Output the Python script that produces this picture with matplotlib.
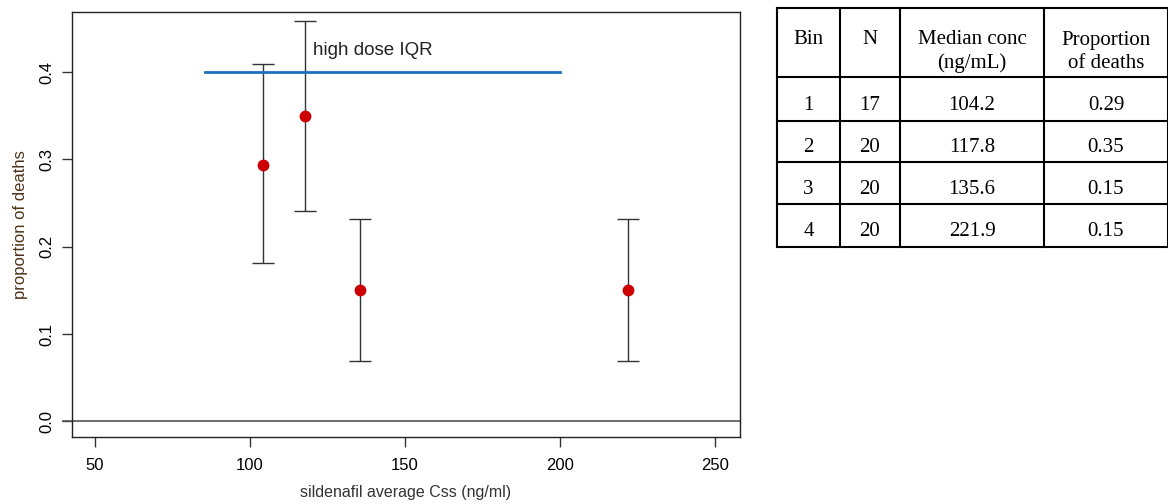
import numpy as np
import matplotlib.pyplot as plt

# binned data
bins = [1, 2, 3, 4]
n_pat = [17, 20, 20, 20]
median_conc = [104.2, 117.8, 135.6, 221.9]
prop_deaths = [0.294, 0.35, 0.15, 0.15]
ci_low = [0.181, 0.241, 0.069, 0.069]
ci_high = [0.409, 0.459, 0.232, 0.232]
prop_table = ['0.29', '0.35', '0.15', '0.15']
iqr_range = [85.5, 200]
iqr_level = 0.4

plt.rcParams['font.family'] = ['Liberation Sans', 'DejaVu Sans']

fig = plt.figure(figsize=(11.68, 5.04), dpi=100)
ax = fig.add_axes([72/1168, 1 - 437/504, 668/1168, 425/504])

x = np.array(median_conc)
y = np.array(prop_deaths)
yerr = [y - np.array(ci_low), np.array(ci_high) - y]
ax.errorbar(x, y, yerr=yerr, fmt='none', ecolor='#333333', elinewidth=1,
            capsize=8, capthick=1)
ax.plot(x, y, 'o', color='#cc0000', markersize=7.5, zorder=3)

ax.plot(iqr_range, [iqr_level, iqr_level], color='#1f6fc1', lw=2)
ax.text(120.3, 0.425, 'high dose IQR', fontsize=13.5, color='#222222',
        ha='left', va='center')

ax.axhline(0, color='#555555', lw=1.2, xmin=-0.013, xmax=1, clip_on=False)

ax.set_xlim(42.6, 258)
ax.set_ylim(-0.018, 0.469)
ax.set_xticks([50, 100, 150, 200, 250])
ax.set_yticks([0.0, 0.1, 0.2, 0.3, 0.4])
ax.set_yticklabels(['0.0', '0.1', '0.2', '0.3', '0.4'], rotation=90, va='center')
ax.tick_params(axis='both', labelsize=12, length=7, width=1, color='#333333', pad=6)
ax.tick_params(axis='x', pad=8)
for s in ax.spines.values():
    s.set_linewidth(1)
    s.set_color('#222222')

ax.set_xlabel('sildenafil average Css (ng/ml)', fontsize=11.5, color='#333333', labelpad=9)
ax.set_ylabel('proportion of deaths', fontsize=12, color='#4d3319', labelpad=8)

# table drawn on a figure-sized overlay, in pixel coordinates
tx = fig.add_axes([0, 0, 1, 1])
tx.set_xlim(0, 1168)
tx.set_ylim(504, 0)
tx.axis('off')

col_x = [777, 840, 900, 1044, 1168]
row_y = [8, 77, 121, 162, 204, 247]
for cx in col_x:
    tx.plot([cx, cx], [row_y[0], row_y[-1]], color='black', lw=1.5)
for ry in row_y:
    tx.plot([col_x[0], col_x[-1]], [ry, ry], color='black', lw=1.5)

serif = ['Liberation Serif', 'DejaVu Serif']
headers = [['Bin'], ['N'], ['Median conc', '(ng/mL)'], ['Proportion', 'of deaths']]
for i, h in enumerate(headers):
    cx = (col_x[i] + col_x[i + 1]) / 2
    for j, line in enumerate(h):
        tx.text(cx, 40 + 23 * j, line, ha='center', va='center', fontsize=15,
                family=serif)

for r in range(4):
    vals = [str(bins[r]), str(n_pat[r]), '%.1f' % median_conc[r], prop_table[r]]
    ty = row_y[r + 2] - 15
    for i, v in enumerate(vals):
        cx = (col_x[i] + col_x[i + 1]) / 2
        tx.text(cx, ty, v, ha='center', va='center', fontsize=15, family=serif)

fig.savefig('out.png', dpi=100)
